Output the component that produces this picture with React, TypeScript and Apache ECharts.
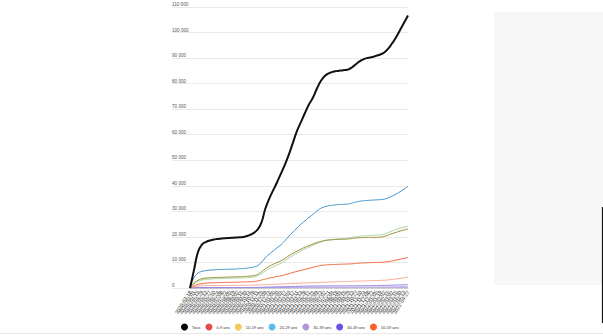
import React, { useEffect, useRef } from "react";
import * as echarts from "echarts";

// biweekly dates starting 2020-03-18
const startDate = new Date(Date.UTC(2020, 2, 18));
const categories: string[] = Array.from({ length: 56 }, (_, i) => {
  const d = new Date(startDate.getTime() + i * 14 * 86400000);
  return d.toISOString().slice(0, 10);
});

const seriesNames = [
  "Tous", "0-9 ans", "10-19 ans", "20-29 ans", "30-39 ans", "40-49 ans",
  "50-59 ans", "60-69 ans", "70-79 ans", "80-89 ans", "90 ans et +",
];
const legendColors = [
  "#000000", "#e5484d", "#f5c95c", "#5bbcec", "#b197d6", "#6d4fe6",
  "#fa5c2a", "#f0643a", "#978a2e", "#3a90c8", "#a2d1a3",
];
const lineColors = [
  "#111111", "#c9c9c9", "#d8cfa8", "#b7b2d8", "#b9a8e8", "#8f7fe6",
  "#f7a68c", "#f0643a", "#978a2e", "#3a90c8", "#a2d1a3",
];

const tous = [
  0, 7000, 14000, 17000, 18000, 18600, 19000, 19200, 19400, 19500,
  19600, 19700, 19800, 19900, 20200, 20700, 21500, 22800, 25500, 31000,
  35000, 38300, 41500, 45000, 48500, 52500, 57000, 61500, 65000, 68500,
  71800, 74500, 78000, 81000, 83000, 84000, 84600, 84900, 85100, 85300,
  85600, 86500, 87800, 88900, 89700, 90100, 90400, 90900, 91400, 92200,
  93700, 95800, 98200, 101000, 103800, 106700,
];
const age0_9 = [
  0, 2, 3, 4, 4, 5, 5, 5, 5, 5, 5, 5, 5, 5, 5, 5, 6, 6, 7, 7,
  8, 8, 9, 9, 10, 10, 11, 11, 12, 12, 12, 13, 13, 13, 14, 14, 14, 14, 14, 15,
  15, 15, 15, 16, 16, 16, 17, 17, 17, 18, 18, 19, 20, 21, 22, 24,
];
const age10_19 = [
  0, 3, 5, 6, 7, 7, 7, 8, 8, 8, 8, 8, 8, 8, 9, 9, 9, 10, 11, 12,
  13, 14, 14, 15, 16, 16, 17, 18, 18, 19, 19, 20, 20, 21, 21, 22, 22, 22, 23, 23,
  24, 25, 26, 27, 28, 29, 30, 31, 32, 33, 35, 38, 41, 44, 47, 50,
];
const age20_29 = [
  0, 10, 18, 22, 25, 26, 27, 28, 28, 29, 29, 30, 30, 30, 31, 31, 32, 33, 36, 40,
  44, 48, 52, 56, 60, 65, 70, 75, 80, 85, 90, 94, 98, 100, 103, 106, 108, 110, 112, 114,
  117, 121, 126, 131, 136, 140, 144, 148, 152, 157, 163, 170, 178, 186, 194, 200,
];
const age30_39 = [
  0, 30, 50, 60, 65, 68, 70, 72, 74, 75, 76, 77, 78, 80, 82, 85, 90, 98, 110, 125,
  140, 155, 170, 185, 200, 215, 230, 245, 260, 275, 285, 295, 305, 312, 318, 322, 325, 328, 331, 334,
  338, 345, 355, 365, 375, 385, 395, 405, 415, 425, 440, 460, 480, 500, 525, 550,
];
const age40_49 = [
  0, 70, 120, 140, 150, 155, 160, 165, 170, 172, 175, 178, 180, 185, 190, 200, 215, 240, 280, 330,
  380, 420, 460, 500, 540, 580, 620, 660, 700, 730, 760, 780, 800, 815, 825, 832, 838, 843, 848, 853,
  860, 875, 895, 915, 935, 955, 975, 995, 1015, 1040, 1070, 1110, 1160, 1210, 1260, 1310,
];
const age50_59 = [
  0, 400, 700, 850, 900, 930, 950, 970, 990, 1000, 1010, 1020, 1030, 1040, 1060, 1080, 1100, 1150, 1220, 1300,
  1380, 1450, 1500, 1560, 1620, 1690, 1760, 1830, 1900, 1960, 2020, 2080, 2140, 2200, 2260, 2320, 2380, 2430, 2480, 2530,
  2580, 2630, 2680, 2730, 2780, 2830, 2880, 2930, 2980, 3050, 3180, 3350, 3550, 3780, 4000, 4250,
];
const age60_69 = [
  0, 800, 1400, 1700, 1900, 2000, 2050, 2100, 2150, 2200, 2200, 2250, 2300, 2350, 2400, 2450, 2550, 2750, 3100, 3500,
  3900, 4200, 4500, 4800, 5200, 5600, 6100, 6500, 6900, 7300, 7700, 8100, 8500, 8800, 9000, 9100, 9200, 9250, 9300, 9350,
  9400, 9500, 9650, 9750, 9850, 9900, 9950, 10000, 10050, 10150, 10350, 10600, 10900, 11300, 11600, 12000,
];
const age70_79 = [
  0, 2000, 3000, 3600, 3900, 4000, 4100, 4150, 4200, 4250, 4300, 4350, 4400, 4450, 4550, 4650, 4850, 5300, 6300, 7500,
  8500, 9300, 10000, 10700, 11600, 12700, 13600, 14400, 15200, 16000, 16600, 17200, 17800, 18200, 18600, 18800, 18900, 19000, 19050, 19100,
  19200, 19400, 19600, 19700, 19750, 19800, 19800, 19850, 19900, 20200, 20700, 21300, 21800, 22300, 22700, 23100,
];
const age80_89 = [
  0, 4000, 5800, 6500, 6800, 7000, 7100, 7200, 7250, 7300, 7350, 7400, 7500, 7600, 7700, 7900, 8200, 8700, 10000, 11800,
  13300, 14500, 15800, 17000, 18600, 20300, 22000, 23500, 25000, 26300, 27600, 28800, 30100, 31200, 31800, 32200, 32400, 32600, 32700, 32800,
  32900, 33300, 33700, 34000, 34200, 34300, 34400, 34500, 34600, 34800, 35300, 36000, 36800, 37700, 38700, 39800,
];
const age90 = [
  0, 1500, 2500, 3100, 3400, 3500, 3600, 3650, 3700, 3750, 3800, 3850, 3900, 3950, 4000, 4100, 4300, 4700, 5500, 6600,
  7500, 8300, 9000, 9800, 10700, 11800, 12700, 13600, 14500, 15300, 16000, 16700, 17400, 18000, 18500, 18800, 19000, 19200, 19300, 19400,
  19600, 19900, 20100, 20300, 20400, 20500, 20600, 20700, 20800, 21100, 21700, 22300, 22900, 23400, 23800, 24200,
];

const seriesData = [
  tous, age0_9, age10_19, age20_29, age30_39, age40_49,
  age50_59, age60_69, age70_79, age80_89, age90,
];
const legendShown = seriesNames.slice(0, 7);

const FONT = 'Helvetica, Arial, "Liberation Sans", sans-serif';

export default function App() {
  const ref = useRef<HTMLDivElement>(null);
  useEffect(() => {
    if (!ref.current) return;
    const chart = echarts.init(ref.current, undefined, { renderer: "svg" });
    const drawOrder = [1, 2, 3, 4, 5, 6, 7, 10, 8, 9, 0];
    chart.setOption({
      animation: false,
      backgroundColor: "#ffffff",
      textStyle: { fontFamily: FONT },
      grid: [
        { left: 172, right: 195, top: 7, height: 281 },
        { left: 190, right: 195, top: 7, height: 281 },
      ],
      xAxis: [
        { type: "value", gridIndex: 0, min: 0, max: 1, show: false },
        {
          type: "category",
          gridIndex: 1,
          data: categories,
          boundaryGap: false,
          axisLine: { show: true, lineStyle: { color: "#d9d9d9", width: 1 } },
          axisTick: { show: false },
          axisLabel: {
            interval: 0,
            rotate: 58,
            fontSize: 5.2,
            color: "#333",
            margin: 3,
            fontFamily: FONT,
          },
          splitLine: { show: false },
        },
      ],
      yAxis: [
        {
          type: "value",
          gridIndex: 0,
          min: 0,
          max: 110000,
          interval: 10000,
          axisLine: { show: false },
          axisTick: { show: false },
          axisLabel: {
            inside: true,
            margin: 0,
            verticalAlign: "bottom",
            align: "left",
            fontSize: 4.6,
            color: "#555",
            fontFamily: FONT,
            formatter: (v: number) =>
              v.toString().replace(/\B(?=(\d{3})+(?!\d))/g, " "),
          },
          splitLine: { show: true, lineStyle: { color: "#e9e9e9", width: 1 } },
        },
        {
          type: "value",
          gridIndex: 1,
          min: 0,
          max: 110000,
          show: false,
          splitLine: { show: false },
        },
      ],
      legend: {
        data: legendShown,
        icon: "circle",
        itemWidth: 7,
        itemHeight: 7,
        itemGap: 5,
        left: 181,
        top: 323.5,
        padding: 0,
        textStyle: { fontSize: 4, color: "#333", fontFamily: FONT, padding: [0, 0, 0, -1] },
      },
      graphic: [
        {
          type: "rect",
          shape: { x: 494, y: 12, width: 109, height: 273 },
          style: { fill: "#f7f7f7" },
          silent: true,
        },
        {
          type: "line",
          shape: { x1: 602.5, y1: 207, x2: 602.5, y2: 323 },
          style: { stroke: "#111", lineWidth: 1.2 },
          silent: true,
        },
        {
          type: "line",
          shape: { x1: 0, y1: 333.5, x2: 603, y2: 333.5 },
          style: { stroke: "#e8e8e8", lineWidth: 1 },
          silent: true,
        },
      ],
      series: drawOrder.map((i) => ({
        name: seriesNames[i],
        type: "line",
        xAxisIndex: 1,
        yAxisIndex: 1,
        data: seriesData[i],
        smooth: true,
        showSymbol: false,
        symbol: "circle",
        itemStyle: { color: legendColors[i] },
        lineStyle: { color: lineColors[i], width: i === 0 ? 2 : 1 },
        emphasis: { disabled: true },
      })),
    });
    return () => chart.dispose();
  }, []);
  return (
    <div
      ref={ref}
      style={{ position: "fixed", left: 0, top: 0, width: 603, height: 336 }}
    />
  );
}
